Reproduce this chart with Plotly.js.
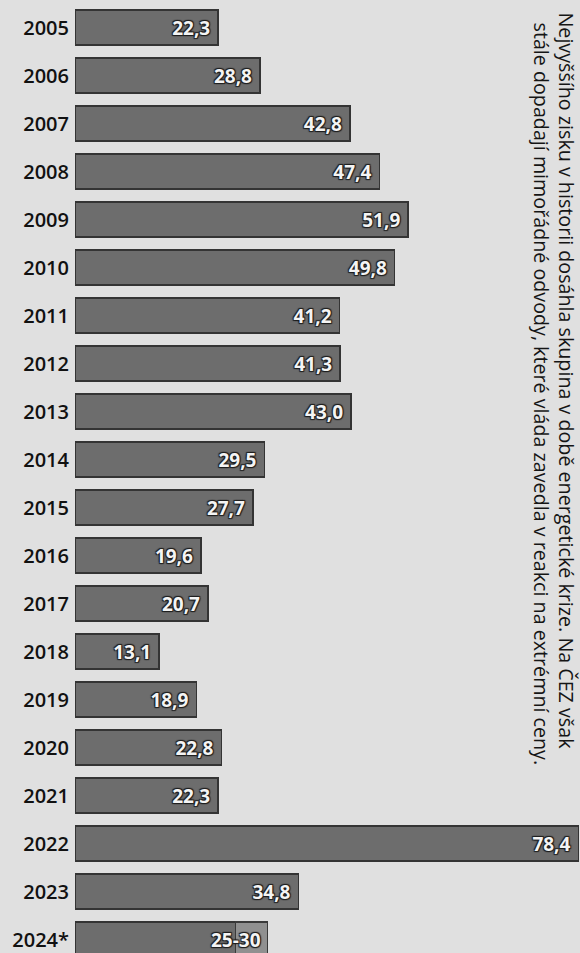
<!DOCTYPE html>
<html>
<head>
<meta charset="utf-8">
<script src="https://cdn.plot.ly/plotly-3.0.1.min.js"></script>
<style>
html,body{margin:0;padding:0;background:#e0e0e0;}
#chart{width:580px;height:953px;}
</style>
</head>
<body>
<div id="chart"></div>
<script>
// Data (zisk skupiny ČEZ, mld. Kč)
const years = ['2005','2006','2007','2008','2009','2010','2011','2012','2013','2014','2015','2016','2017','2018','2019','2020','2021','2022','2023','2024*'];
const profit = [22.3,28.8,42.8,47.4,51.9,49.8,41.2,41.3,43.0,29.5,27.7,19.6,20.7,13.1,18.9,22.8,22.3,78.4,34.8,25];
const valueLabels = ['22,3','28,8','42,8','47,4','51,9','49,8','41,2','41,3','43,0','29,5','27,7','19,6','20,7','13,1','18,9','22,8','22,3','78,4','34,8',''];
const forecastYear = '2024*';
const forecastLow = 25;
const forecastHigh = 30;
const forecastLabel = '25-30';
const noteLine1 = 'Nejvyššího zisku v historii dosáhla skupina v době energetické krize. Na ČEZ však';
const noteLine2 = 'stále dopadají mimořádné odvody, které vláda zavedla v reakci na extrémní ceny.';

const W = 580, H = 953;
const L = 75;

const labelsPadded = valueLabels.map(s => s ? s + '\u00a0' : '');
const extension = years.map(y => y === forecastYear ? forecastHigh - forecastLow : null);

const labelFont = {family: 'Open Sans, sans-serif', size: 19, weight: 700, color: '#f4f4f4',
  shadow: '1px 1px 1px #1e1e1e, -1px -1px 1px #1e1e1e, 1px -1px 1px #1e1e1e, -1px 1px 1px #1e1e1e'};

const traces = [
  {
    type: 'bar', orientation: 'h', y: years, x: profit,
    text: labelsPadded, textposition: 'inside', insidetextanchor: 'end',
    textfont: labelFont, constraintext: 'none',
    marker: {color: '#6d6d6d', line: {color: '#343434', width: 1.5}},
    width: 0.73, hoverinfo: 'none', cliponaxis: false
  },
  {
    type: 'bar', orientation: 'h', y: years, x: extension,
    marker: {color: '#909090', line: {color: '#3a3a3a', width: 1.5}},
    width: 0.73, hoverinfo: 'none', cliponaxis: false
  }
];

const noteFont = {family: 'Open Sans, sans-serif', size: 19.7, color: '#151515'};

const layout = {
  width: W, height: H,
  margin: {l: L, r: 0, t: 0, b: 0},
  paper_bgcolor: '#e0e0e0', plot_bgcolor: '#e0e0e0',
  barmode: 'stack', showlegend: false, separators: ', ',
  xaxis: {range: [0, (W - L) / 6.42], visible: false, fixedrange: true},
  yaxis: {
    type: 'category', categoryorder: 'array', categoryarray: years,
    range: [19.28, -0.573], autorange: false,
    showgrid: false, zeroline: false, showline: false, ticks: '',
    ticklabelstandoff: 5,
    tickfont: {family: 'Open Sans, sans-serif', size: 20, weight: 600, color: '#111'}
  },
  annotations: [
    {x: forecastHigh, y: forecastYear, xref: 'x', yref: 'y', text: forecastLabel + '\u00a0',
     xanchor: 'right', yanchor: 'middle', showarrow: false, font: labelFont},
    {xref: 'paper', yref: 'paper', x: (566 - L) / (W - L), y: 1 - 10 / H, xanchor: 'center', yanchor: 'top',
     text: noteLine1, textangle: 90, showarrow: false, font: noteFont},
    {xref: 'paper', yref: 'paper', x: (541 - L) / (W - L), y: 1 - 20 / H, xanchor: 'center', yanchor: 'top',
     text: noteLine2, textangle: 90, showarrow: false, font: noteFont}
  ]
};

Plotly.newPlot('chart', traces, layout, {displayModeBar: false, staticPlot: true});
</script>
</body>
</html>
